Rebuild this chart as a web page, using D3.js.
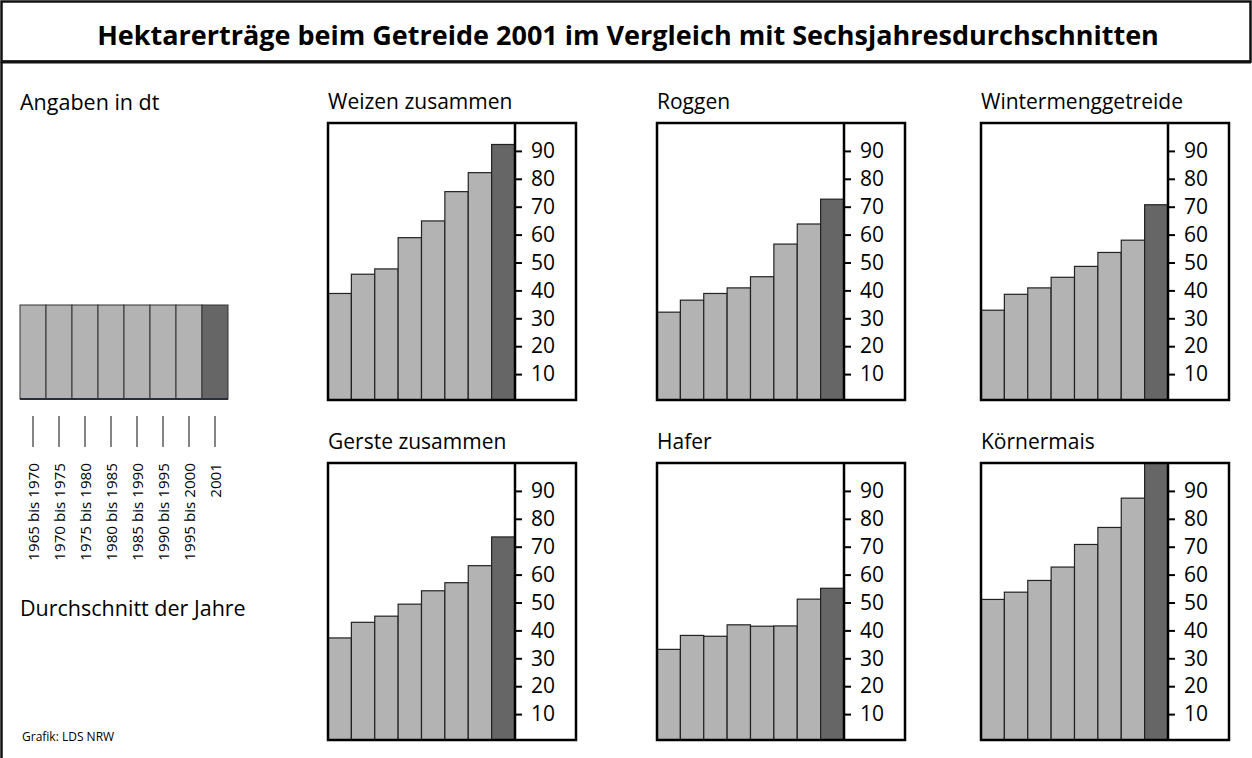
<!DOCTYPE html>
<html>
<head>
<meta charset="utf-8">
<script src="https://cdn.jsdelivr.net/npm/d3@7"></script>
<style>
  body { margin: 0; background: #fff; }
  svg { display: block; font-family: "Open Sans", "DejaVu Sans", sans-serif; }
</style>
</head>
<body>
<div id="chart"></div>
<script>
// Durchschnittsperioden (Kategorien)
const periods = ["1965 bis 1970", "1970 bis 1975", "1975 bis 1980", "1980 bis 1985",
                 "1985 bis 1990", "1990 bis 1995", "1995 bis 2000", "2001"];

// Hektarerträge in dt je Getreideart
const weizen    = [38.9, 45.8, 47.7, 58.9, 64.9, 75.4, 82.2, 92.3];
const roggen    = [32.2, 36.5, 38.9, 40.9, 44.9, 56.6, 63.8, 72.7];
const winterm   = [32.9, 38.6, 40.9, 44.7, 48.6, 53.6, 58.0, 70.7];
const gerste    = [37.3, 42.9, 45.1, 49.4, 54.2, 57.1, 63.2, 73.5];
const hafer     = [33.2, 38.2, 37.9, 42.0, 41.5, 41.6, 51.2, 55.1];
const koernerm  = [51.1, 53.7, 57.9, 62.7, 70.8, 76.9, 87.4, 104];

const cropNames = ["Weizen zusammen", "Roggen", "Wintermenggetreide",
                   "Gerste zusammen", "Hafer", "Körnermais"];
const cropValues = [weizen, roggen, winterm, gerste, hafer, koernerm];
const tickLabels = [10, 20, 30, 40, 50, 60, 70, 80, 90];

const W = 1252, H = 758;
const colLeft = [328, 657, 981], rowTop = [123, 463];
const boxW = 248, boxH = 277, plotW = 187;
const light = "#b3b3b3", dark = "#666666";

const svg = d3.select("#chart").append("svg")
  .attr("width", W).attr("height", H);

// Rahmen + Titel
svg.append("rect").attr("x", 1.5).attr("y", 1.5).attr("width", W - 3).attr("height", 60)
  .attr("fill", "none").attr("stroke", "#111").attr("stroke-width", 2.5);
svg.append("line").attr("x1", 1.5).attr("x2", W - 1).attr("y1", 62).attr("y2", 62)
  .attr("stroke", "#111").attr("stroke-width", 3);
svg.append("line").attr("x1", 1.5).attr("x2", 1.5).attr("y1", 62).attr("y2", H)
  .attr("stroke", "#111").attr("stroke-width", 2.5);
svg.append("text").attr("x", 628).attr("y", 45).attr("text-anchor", "middle")
  .attr("font-size", 27).attr("font-weight", "bold").attr("fill", "#000")
  .text("Hektarerträge beim Getreide 2001 im Vergleich mit Sechsjahresdurchschnitten");

// Legende links
svg.append("text").attr("x", 20).attr("y", 110).attr("font-size", 21.5).text("Angaben in dt");

const lx = d3.scaleBand().domain(periods).range([20, 228]).padding(0);
const leg = svg.append("g");
leg.selectAll("rect").data(periods).join("rect")
  .attr("x", d => lx(d)).attr("y", 305)
  .attr("width", lx.bandwidth()).attr("height", 94)
  .attr("fill", (d, i) => i === periods.length - 1 ? dark : light)
  .attr("stroke", "#333").attr("stroke-width", 1);
leg.append("line").attr("x1", 20).attr("x2", 228).attr("y1", 399).attr("y2", 399)
  .attr("stroke", "#2a2f3a").attr("stroke-width", 2);
leg.selectAll("line.tk").data(periods).join("line").attr("class", "tk")
  .attr("x1", d => lx(d) + lx.bandwidth() / 2).attr("x2", d => lx(d) + lx.bandwidth() / 2)
  .attr("y1", 416).attr("y2", 447).attr("stroke", "#333").attr("stroke-width", 1.2);
leg.selectAll("text").data(periods).join("text")
  .attr("transform", d => `translate(${lx(d) + lx.bandwidth() / 2 + 5.5},463) rotate(-90)`)
  .attr("text-anchor", "end").attr("font-size", 15.2).text(d => d);
svg.append("text").attr("x", 20).attr("y", 616).attr("font-size", 21.5).text("Durchschnitt der Jahre");
svg.append("text").attr("x", 22).attr("y", 741).attr("font-size", 12).text("Grafik: LDS NRW");

// Panels
cropNames.forEach((name, k) => {
  const left = colLeft[k % 3], top = rowTop[Math.floor(k / 3)];
  const bottom = top + boxH;
  const vals = cropValues[k];
  const g = svg.append("g");

  const x = d3.scaleBand().domain(periods).range([left, left + plotW]).padding(0);
  const y = d3.scaleLinear().domain([0, 100]).range([bottom + 2, top]);

  g.append("text").attr("x", left).attr("y", top - 14).attr("font-size", 21).text(name);

  const clipId = "clip" + k;
  g.append("clipPath").attr("id", clipId).append("rect")
    .attr("x", left).attr("y", top).attr("width", boxW).attr("height", boxH);

  g.append("g").attr("clip-path", `url(#${clipId})`)
    .selectAll("rect").data(vals).join("rect")
    .attr("x", (d, i) => x(periods[i])).attr("y", d => y(d))
    .attr("width", x.bandwidth()).attr("height", d => y(0) - y(d))
    .attr("fill", (d, i) => i === vals.length - 1 ? dark : light)
    .attr("stroke", "#222").attr("stroke-width", 1.2);

  const ax = g.append("g").attr("transform", `translate(${left + plotW},0)`)
    .call(d3.axisRight(y).tickValues(tickLabels).tickSize(7).tickPadding(9));
  ax.select(".domain").remove();
  ax.selectAll(".tick line").attr("stroke", "#000").attr("stroke-width", 2);
  ax.selectAll(".tick text").attr("font-size", 21).attr("font-family", "Open Sans, sans-serif")
    .attr("fill", "#000");

  g.append("line").attr("x1", left + plotW).attr("x2", left + plotW)
    .attr("y1", top).attr("y2", bottom).attr("stroke", "#000").attr("stroke-width", 2.5);
  g.append("rect").attr("x", left).attr("y", top).attr("width", boxW).attr("height", boxH)
    .attr("fill", "none").attr("stroke", "#000").attr("stroke-width", 2.5);
});
</script>
</body>
</html>
